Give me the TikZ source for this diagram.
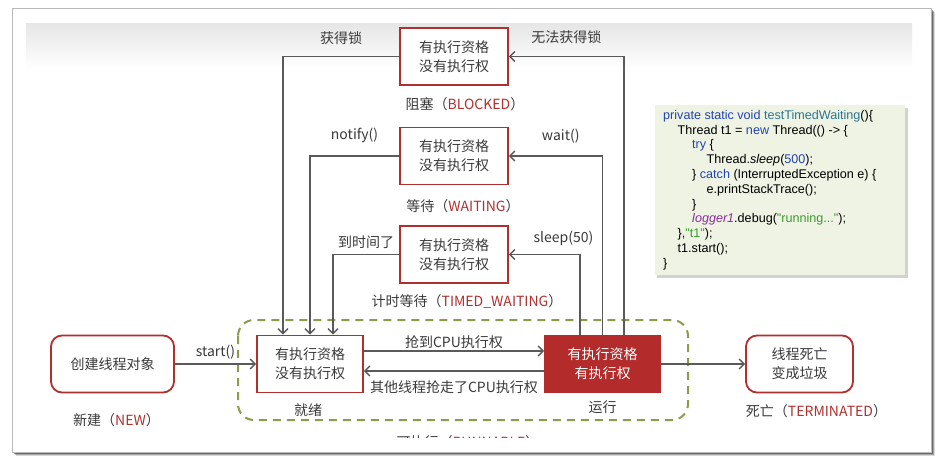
\documentclass[tikz,border=0pt]{standalone}
\usepackage{fontspec}
\setmainfont{Noto Sans CJK SC}
\newfontfamily\codefont{Liberation Sans}
\usetikzlibrary{arrows.meta, positioning, calc}
\definecolor{cred}{HTML}{B0302E}
\definecolor{cfill}{HTML}{B32B2A}
\definecolor{cgrey}{HTML}{5A5A5A}
\definecolor{ctext}{HTML}{3A3A3A}
\definecolor{cgreen}{HTML}{8C9B4E}
\definecolor{ccode}{HTML}{EEF3E3}
\definecolor{ckey}{HTML}{2443B2}
\definecolor{cmeth}{HTML}{2C7590}
\definecolor{cpurple}{HTML}{8E2A9E}
\definecolor{cstr}{HTML}{3C9A2C}
\tikzset{
  every picture/.style={font=\fontsize{14}{19}\selectfont, text=ctext},
  state/.style={draw=cred, line width=1.8pt, fill=white, align=center, minimum width=108pt, minimum height=57pt, inner sep=2pt},
  startend/.style={state, rounded corners=11pt},
  active/.style={state, fill=cfill, draw=cfill, text=white},
  arrow/.style={-{Straight Barb[length=5pt,width=10pt]}, draw=cgrey, line width=1.4pt},
  lbl/.style={inner sep=1pt},
  caption/.style={inner sep=1pt},
  group/.style={draw=cgreen, line width=2pt, dash pattern=on 8pt off 6pt, rounded corners=16pt},
}

\begin{document}
\begin{tikzpicture}[x=1pt,y=-1pt]
  \useasboundingbox (0,0) rectangle (938,466);
  % slide frame
  \foreach \s/\o in {4/0.15, 3/0.25, 2/0.35} {
    \fill[black, opacity=\o] (12+\s,8+\s) rectangle (931+\s,452+\s);
  }
  \draw[gray!55, fill=white, line width=0.8pt] (12,8) rectangle (931,452);
  \shade[top color=gray!20, bottom color=white] (26,23) rectangle (912,68);

  % code listing
  \fill[gray!35] (657,108) rectangle (908,278);
  \fill[ccode] (655,105) rectangle (905,275);
  \node[anchor=north west, align=left, inner sep=0pt, font=\codefont\fontsize{12.6}{14.8}\selectfont, text=black] (code) at (663,110)
    {\textcolor{ckey}{private static void} \textcolor{cmeth}{testTimedWaiting}()\{\\
     \hspace*{14.5pt}Thread t1 = \textcolor{ckey}{new} Thread(() -> \{\\
     \hspace*{29pt}\textcolor{ckey}{try} \{\\
     \hspace*{43.5pt}Thread.\textit{sleep}(\textcolor{ckey}{500});\\
     \hspace*{29pt}\} \textcolor{ckey}{catch} (InterruptedException e) \{\\
     \hspace*{43.5pt}e.printStackTrace();\\
     \hspace*{29pt}\}\\
     \hspace*{29pt}\textcolor{cpurple}{\textit{logger1}}.debug(\textcolor{cstr}{\symbol{34}running...\symbol{34}});\\
     \hspace*{14.5pt}\},\textcolor{cstr}{\symbol{34}t1\symbol{34}});\\
     \hspace*{14.5pt}t1.start();\\
     \}};

  % runnable group
  \draw[group] (238,320) rectangle (688,420);
  \begin{scope}
    \clip (0,0) rectangle (938,437);
    \node[caption] (runnable) at (468,442) {可执行（\textcolor{cred}{RUNNABLE}）};
  \end{scope}

  % states
  \node[state] (blocked) at (454,56.5) {有执行资格\\没有执行权};
  \node[state] (waiting) at (454,156) {有执行资格\\没有执行权};
  \node[state] (timed) at (454,254.5) {有执行资格\\没有执行权};
  \node[startend, minimum width=123pt] (new) at (112.5,364) {创建线程对象};
  \node[state, minimum width=106pt] (ready) at (310,364) {有执行资格\\没有执行权};
  \node[active, minimum width=115pt] (running) at (602.5,364) {有执行资格\\有执行权};
  \node[startend, minimum width=107pt] (dead) at (799.5,364) {线程死亡\\变成垃圾};

  % captions
  \node[caption, below=10pt of blocked, xshift=11pt] (cblocked) {阻塞（\textcolor{cred}{BLOCKED}）};
  \node[caption, below=12.5pt of waiting, xshift=9pt] (cwaiting) {等待（\textcolor{cred}{WAITING}）};
  \node[caption, below=9pt of timed, xshift=13pt] (ctimed) {计时等待（\textcolor{cred}{TIMED\_WAITING}）};
  \node[caption, below=18.5pt of new, xshift=4pt] (cnew) {新建（\textcolor{cred}{NEW}）};
  \node[caption, below=9pt of ready, xshift=-2pt] (cready) {就绪};
  \node[caption, below=6pt of running] (crunning) {运行};
  \node[caption, below=10pt of dead, xshift=17pt] (cdead) {死亡（\textcolor{cred}{TERMINATED}）};

  % transitions
  \draw[arrow] (new) -- node[lbl, above=3.5pt] (lstart) {start()} (ready);
  \draw[arrow] ($(ready.east)+(0,-13)$) -- node[lbl, above=0.5pt] (lgrab) {抢到CPU执行权} ($(running.west)+(0,-13)$);
  \draw[arrow] ($(running.west)+(0,7)$) -- node[lbl, below=7.5pt] (llose) {其他线程抢走了CPU执行权} ($(ready.east)+(0,7)$);
  \draw[arrow] (running) -- (dead);
  \draw[arrow] (blocked.west) -| node[lbl, pos=0.25, above=10.5pt] (llock) {获得锁} ($(ready.north)+(-27,0)$);
  \draw[arrow] (waiting.west) -| node[lbl, pos=0.25, above=11.5pt] (lnotify) {notify()} (ready.north);
  \draw[arrow] (timed.west) -| node[lbl, pos=0.25, above=4.5pt] (ltime) {到时间了} ($(ready.north)+(23,0)$);
  \draw[arrow] ($(running.north)+(21.5,0)$) |- node[lbl, pos=0.75, above=11pt] (lnolock) {无法获得锁} (blocked.east);
  \draw[arrow] (running.north) |- node[lbl, pos=0.75, above=11.5pt, xshift=5pt] (lwait) {wait()} (waiting.east);
  \draw[arrow] ($(running.north)+(-22.5,0)$) |- node[lbl, pos=0.75, above=7.5pt, xshift=19pt] (lsleep) {sleep(50)} (timed.east);
\end{tikzpicture}
\end{document}
